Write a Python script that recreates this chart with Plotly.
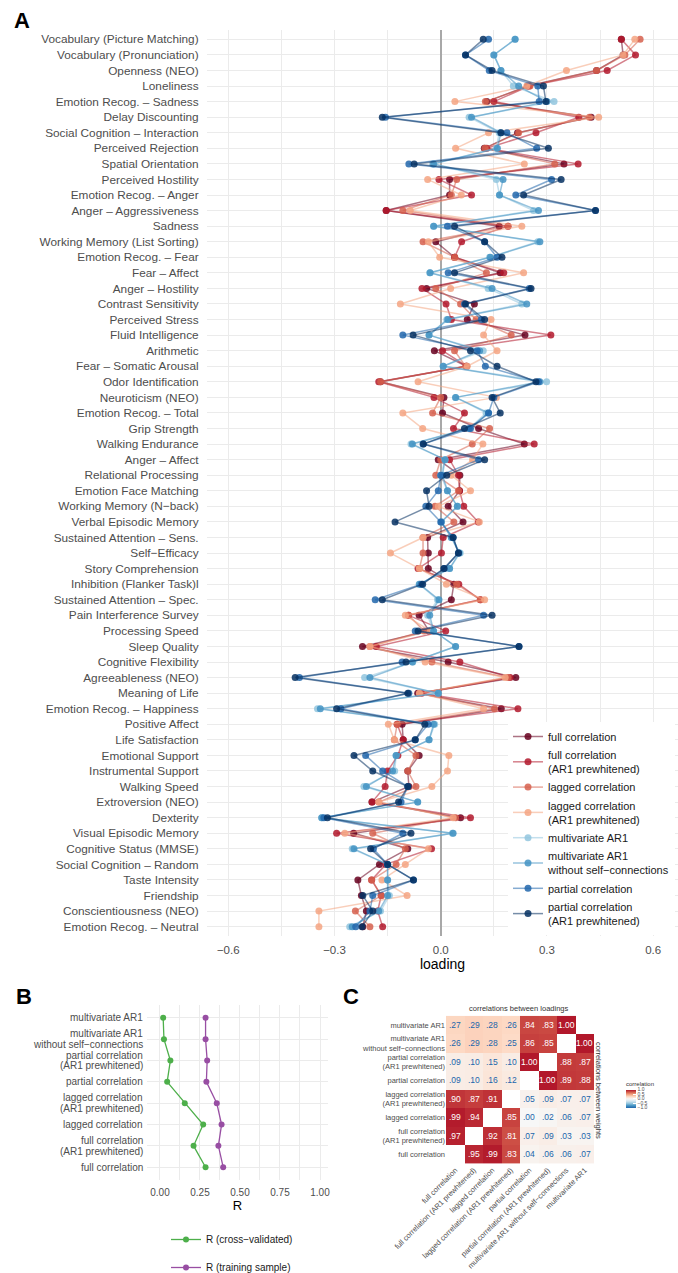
import plotly.graph_objects as go

# ---------------- Panel A data ----------------
measures = [
    "Vocabulary (Picture Matching)", "Vocabulary (Pronunciation)", "Openness (NEO)", "Loneliness",
    "Emotion Recog. – Sadness", "Delay Discounting", "Social Cognition – Interaction", "Perceived Rejection",
    "Spatial Orientation", "Perceived Hostility", "Emotion Recog. – Anger", "Anger – Aggressiveness",
    "Sadness", "Working Memory (List Sorting)", "Emotion Recog. – Fear", "Fear – Affect",
    "Anger – Hostility", "Contrast Sensitivity", "Perceived Stress", "Fluid Intelligence",
    "Arithmetic", "Fear – Somatic Arousal", "Odor Identification", "Neuroticism (NEO)",
    "Emotion Recog. – Total", "Grip Strength", "Walking Endurance", "Anger – Affect",
    "Relational Processing", "Emotion Face Matching", "Working Memory (N−back)", "Verbal Episodic Memory",
    "Sustained Attention – Sens.", "Self−Efficacy", "Story Comprehension", "Inhibition (Flanker Task)l",
    "Sustained Attention – Spec.", "Pain Interference Survey", "Processing Speed", "Sleep Quality",
    "Cognitive Flexibility", "Agreeableness (NEO)", "Meaning of Life", "Emotion Recog. – Happiness",
    "Positive Affect", "Life Satisfaction", "Emotional Support", "Instrumental Support",
    "Walking Speed", "Extroversion (NEO)", "Dexterity", "Visual Episodic Memory",
    "Cognitive Status (MMSE)", "Social Cognition – Random", "Taste Intensity", "Friendship",
    "Conscientiousness (NEO)", "Emotion Recog. – Neutral",
]

full_corr = [0.51, 0.515, 0.44, 0.245, 0.13, 0.425, 0.217, 0.123, 0.348, 0.025, 0.025, -0.154, 0.165, -0.014,
             0.039, 0.168, -0.04, 0.095, 0.075, 0.238, -0.018, 0.073, -0.17, 0.009, 0.005, 0.107, 0.236, -0.007,
             0.054, 0.053, 0.021, 0.063, -0.037, -0.035, -0.035, 0.037, 0.03, -0.061, -0.033, -0.221, 0.021,
             0.212, -0.065, 0.171, -0.109, -0.106, -0.061, -0.093, -0.09, -0.194, 0.056, -0.246, -0.093, -0.173,
             -0.234, -0.224, -0.21, -0.22]
full_corr_ar1 = [0.51, 0.55, 0.47, 0.25, 0.15, 0.39, 0.269, 0.13, 0.388, -0.005, 0.087, -0.154, 0.19, 0.059,
                 0.039, 0.178, -0.053, 0.015, 0.03, 0.311, 0.005, 0.073, -0.175, -0.019, 0.067, 0.036, 0.264, 0.025,
                 0.05, 0.053, 0.065, 0.106, 0.007, 0.002, -0.064, 0.051, 0.112, -0.091, 0.014, -0.182, 0.054,
                 0.196, -0.054, 0.218, -0.123, -0.106, -0.121, -0.15, -0.157, -0.194, 0.084, -0.294, -0.026, -0.155,
                 -0.195, -0.168, -0.178, -0.164]
lagged_corr = [0.563, 0.52, 0.44, 0.252, 0.126, 0.42, 0.22, 0.125, 0.322, 0.045, 0.03, -0.107, 0.19, -0.05,
               0.04, 0.129, -0.014, 0.056, 0.10, 0.199, 0.039, 0.07, -0.17, 0.0, -0.023, 0.138, 0.089, 0.0,
               -0.014, 0.05, -0.016, 0.037, -0.05, -0.05, -0.06, 0.045, 0.112, -0.091, -0.047, -0.2, -0.025,
               0.19, -0.06, 0.152, -0.123, -0.131, -0.07, -0.093, -0.07, -0.175, 0.042, -0.192, -0.1, -0.126,
               -0.195, -0.168, -0.241, -0.2]
lagged_corr_ar1 = [0.548, 0.515, 0.355, 0.243, 0.04, 0.446, 0.135, 0.042, 0.236, -0.037, 0.058, -0.086, 0.229,
                   -0.035, -0.003, 0.234, 0.028, -0.114, 0.142, 0.121, 0.159, 0.075, -0.064, 0.157, -0.107, -0.051,
                   0.119, 0.09, 0.03, 0.084, -0.007, 0.109, -0.05, -0.142, -0.06, 0.016, 0.124, -0.1, -0.03, -0.2,
                   -0.044, 0.182, -0.06, 0.121, -0.148, -0.131, 0.023, 0.019, -0.025, -0.175, 0.035, -0.271, -0.035,
                   -0.1, -0.166, -0.095, -0.344, -0.344]
mar1 = [0.21, 0.15, 0.17, 0.205, 0.32, 0.08, 0.165, 0.157, -0.023, 0.157, 0.166, 0.262, -0.02, 0.274,
        0.138, -0.031, 0.134, 0.229, 0.017, -0.033, 0.12, 0.007, 0.299, 0.042, 0.128, 0.08, -0.084, 0.012,
        0.0, 0.019, 0.047, 0.002, 0.03, 0.055, 0.025, -0.061, -0.009, -0.037, -0.021, 0.042, -0.079,
        -0.215, -0.007, -0.348, -0.017, -0.033, -0.126, -0.13, -0.217, -0.065, -0.336, 0.033, -0.25, -0.15,
        -0.15, -0.145, -0.17, -0.257]
mar1_noself = [0.21, 0.15, 0.17, 0.22, 0.30, 0.087, 0.17, 0.16, -0.02, 0.176, 0.166, 0.276, -0.02, 0.28,
               0.14, -0.03, 0.145, 0.243, 0.02, -0.033, 0.11, 0.007, 0.28, 0.042, 0.135, 0.08, -0.08, 0.012,
               0.005, 0.019, 0.047, 0.002, 0.03, 0.052, 0.025, -0.06, -0.005, -0.031, -0.02, 0.042, -0.08,
               -0.2, -0.007, -0.34, -0.02, -0.033, -0.126, -0.136, -0.21, -0.065, -0.336, 0.035, -0.245, -0.15,
               -0.15, -0.15, -0.175, -0.25]
partial_corr = [0.135, 0.07, 0.137, 0.274, 0.278, -0.156, 0.187, 0.271, -0.09, 0.313, 0.212, 0.437, 0.019, 0.124,
                0.159, 0.021, 0.25, 0.067, 0.115, -0.107, 0.103, 0.126, 0.276, 0.15, 0.135, 0.084, -0.05, 0.107,
                0.0, -0.007, -0.042, 0.0, 0.035, 0.05, 0.01, -0.055, -0.185, 0.121, -0.072, 0.221, -0.109,
                -0.399, -0.09, -0.282, -0.035, -0.072, -0.212, -0.164, -0.093, -0.112, -0.33, -0.107, -0.19, -0.15,
                -0.077, -0.192, -0.2, -0.24]
partial_corr_ar1 = [0.12, 0.07, 0.145, 0.29, 0.297, -0.165, 0.17, 0.304, -0.075, 0.34, 0.234, 0.437, 0.039, 0.124,
                    0.173, 0.039, 0.255, 0.07, 0.124, -0.078, 0.084, 0.159, 0.269, 0.145, 0.168, 0.067, -0.049, 0.124,
                    0.017, -0.04, -0.033, -0.129, 0.035, 0.05, 0.009, -0.051, -0.165, 0.145, -0.064, 0.221, -0.098,
                    -0.411, -0.093, -0.294, -0.045, -0.072, -0.245, -0.192, -0.093, -0.119, -0.32, -0.084, -0.198,
                    -0.15, -0.077, -0.22, -0.192, -0.222]

series_names = ["full correlation", "full correlation<br>(AR1 prewhitened)", "lagged correlation",
                "lagged correlation<br>(AR1 prewhitened)", "multivariate AR1",
                "multivariate AR1<br>without self−connections", "partial correlation",
                "partial correlation<br>(AR1 prewhitened)"]
series_values = [full_corr, full_corr_ar1, lagged_corr, lagged_corr_ar1, mar1, mar1_noself,
                 partial_corr, partial_corr_ar1]
series_colors = ["#67001F", "#B2182B", "#D6604D", "#F4A582", "#92C5DE", "#4393C3", "#2166AC", "#053061"]

# ---------------- Panel B data ----------------
methods_b = ["full correlation", "full correlation<br>(AR1 prewhitened)", "lagged correlation",
             "lagged correlation<br>(AR1 prewhitened)", "partial correlation",
             "partial correlation<br>(AR1 prewhitened)", "multivariate AR1<br>without self−connections",
             "multivariate AR1"]
r_cv = [0.285, 0.21, 0.27, 0.155, 0.045, 0.065, 0.025, 0.02]
r_train = [0.395, 0.365, 0.385, 0.355, 0.29, 0.295, 0.285, 0.285]

# ---------------- Panel C data ----------------
heat_rows = methods_b
heat_cols = ["full correlation", "full correlation (AR1 prewhitened)", "lagged correlation",
             "lagged correlation (AR1 prewhitened)", "partial correlation",
             "partial correlation (AR1 prewhitened)", "multivariate AR1 without self−connections",
             "multivariate AR1"]
heat_z = [
    [None, 0.95, 0.99, 0.83, 0.04, 0.06, 0.06, 0.07],
    [0.97, None, 0.92, 0.81, 0.07, 0.09, 0.03, 0.03],
    [0.99, 0.94, None, 0.85, 0.00, 0.02, 0.06, 0.07],
    [0.90, 0.87, 0.91, None, 0.05, 0.09, 0.07, 0.07],
    [0.09, 0.10, 0.16, 0.12, None, 1.00, 0.89, 0.88],
    [0.09, 0.10, 0.15, 0.10, 1.00, None, 0.88, 0.87],
    [0.26, 0.29, 0.28, 0.25, 0.86, 0.85, None, 1.00],
    [0.27, 0.29, 0.28, 0.26, 0.84, 0.83, 1.00, None],
]

FONT = "Liberation Sans, Arial, Helvetica, sans-serif"
GRID = "#EBEBEB"
TICKC = "#4D4D4D"
W, H = 678, 1273


def hexa(c, a):
    c = c.lstrip("#")
    return "rgba(%d,%d,%d,%.2f)" % (int(c[0:2], 16), int(c[2:4], 16), int(c[4:6], 16), a)


fig = go.Figure()

ypos = list(range(1, len(measures) + 1))
for name, vals, col in zip(series_names, series_values, series_colors):
    fig.add_trace(go.Scatter(
        x=vals, y=ypos, mode="lines+markers", name=name,
        line=dict(color=hexa(col, 0.55), width=1.5),
        marker=dict(color=hexa(col, 0.85), size=7),
        xaxis="x", yaxis="y", legend="legend", hoverinfo="skip",
    ))

ypos_b = list(range(len(methods_b)))
fig.add_trace(go.Scatter(x=r_cv, y=ypos_b, mode="lines+markers", name="R (cross−validated)",
                         line=dict(color="#4DAF4A", width=1.3), marker=dict(color="#4DAF4A", size=6),
                         xaxis="x2", yaxis="y2", legend="legend2", legendgroup="cv"))
fig.add_trace(go.Scatter(x=r_train, y=ypos_b, mode="lines+markers", name="R (training sample)",
                         line=dict(color="#984EA3", width=1.3), marker=dict(color="#984EA3", size=6),
                         xaxis="x2", yaxis="y2", legend="legend2", legendgroup="tr"))

rdbu = [[0.0, "#2166ac"], [0.125, "#4393c3"], [0.25, "#92c5de"], [0.375, "#d1e5f0"], [0.5, "#f7f7f7"],
        [0.625, "#fddbc7"], [0.75, "#f4a582"], [0.875, "#d6604d"], [1.0, "#b2182b"]]
fig.add_trace(go.Heatmap(
    z=heat_z, x=list(range(8)), y=list(range(8)), zmin=-1, zmax=1, colorscale=rdbu,
    xaxis="x3", yaxis="y3", hoverinfo="skip", showscale=True,
    colorbar=dict(x=616 / W, xanchor="left", y=1 - 1093 / H, yanchor="middle", len=49, lenmode="pixels",
                  thickness=10, outlinewidth=0,
                  title=dict(text="correlation", side="top", font=dict(size=6, family=FONT, color="#333")),
                  tickvals=[-1, -0.5, 0, 0.5, 1], ticktext=["−1.0", "−0.5", "0.0", "0.5", "1.0"],
                  tickfont=dict(size=5, family=FONT, color="#4D4D4D"), ticks="inside", tickcolor="white",
                  ticklen=3),
))

annotations = []
for i, row in enumerate(heat_z):
    for j, v in enumerate(row):
        if v is None:
            continue
        txt = "%.2f" % v
        if txt.startswith("0"):
            txt = txt[1:]
        annotations.append(dict(x=j, y=i, xref="x3", yref="y3", text=txt, showarrow=False,
                                font=dict(size=8.5, family=FONT, color="white" if v >= 0.5 else "#2166AC")))

# Panel B category labels (tight line spacing like the reference)
for i, lab in enumerate(methods_b):
    lines = lab.split("<br>")
    n = len(lines)
    for k, ln in enumerate(lines):
        shift = ((n - 1) / 2.0 - k) * 10.8
        annotations.append(dict(x=145 / W, y=i, xref="paper", yref="y2", text=ln, showarrow=False,
                                xanchor="right", yanchor="middle", yshift=shift,
                                font=dict(size=10, family=FONT, color=TICKC)))

annotations += [
    dict(x=12 / W, y=1 - 6 / H, xref="paper", yref="paper", text="<b>A</b>", showarrow=False,
         xanchor="left", yanchor="top", font=dict(size=22, family=FONT, color="black")),
    dict(x=14 / W, y=1 - 982 / H, xref="paper", yref="paper", text="<b>B</b>", showarrow=False,
         xanchor="left", yanchor="top", font=dict(size=22, family=FONT, color="black")),
    dict(x=341 / W, y=1 - 982 / H, xref="paper", yref="paper", text="<b>C</b>", showarrow=False,
         xanchor="left", yanchor="top", font=dict(size=22, family=FONT, color="black")),
    dict(x=518 / W, y=1 - 1008 / H, xref="paper", yref="paper", text="correlations between loadings",
         showarrow=False, xanchor="center", yanchor="middle", font=dict(size=7.5, family=FONT, color="#333")),
    dict(x=599 / W, y=1 - 1090 / H, xref="paper", yref="paper", text="correlations between weights",
         showarrow=False, textangle=90, xanchor="center", yanchor="middle",
         font=dict(size=7.5, family=FONT, color="#333")),
]

fig.update_layout(
    width=W, height=H, margin=dict(l=0, r=0, t=0, b=0, autoexpand=False),
    paper_bgcolor="white", plot_bgcolor="white",
    font=dict(family=FONT, color="#1a1a1a"),
    annotations=annotations,
    xaxis=dict(domain=[207 / W, 1.0], anchor="y", range=[-0.66, 0.67], tick0=0, dtick=0.3, tickformat=".1f",
               automargin=False,
               showgrid=True, gridcolor=GRID, gridwidth=1,
               minor=dict(dtick=0.15, tick0=0, showgrid=True, gridcolor=GRID, gridwidth=0.6),
               zeroline=True, zerolinecolor="#A8A8A8", zerolinewidth=1.6, showline=False,
               ticks="outside", ticklen=3, tickcolor="rgba(0,0,0,0)",
               tickfont=dict(size=11.5, color=TICKC, family=FONT),
               title=dict(text="loading", font=dict(size=14, color="black", family=FONT), standoff=4)),
    yaxis=dict(domain=[1 - 936 / H, 1 - 30 / H], anchor="x", range=[58.6, 0.4], tickvals=ypos,
               automargin=False,
               ticktext=measures, showgrid=True, gridcolor=GRID, gridwidth=1, zeroline=False,
               ticks="outside", ticklen=5, tickcolor="rgba(0,0,0,0)",
               tickfont=dict(size=11.8, color=TICKC, family=FONT)),
    xaxis2=dict(domain=[147 / W, 328 / W], anchor="y2", range=[-0.081, 1.05], tick0=0, dtick=0.25,
                automargin=False,
                tickformat=".2f", showgrid=True, gridcolor=GRID, gridwidth=1,
                minor=dict(dtick=0.125, tick0=0, showgrid=True, gridcolor=GRID, gridwidth=0.6),
                zeroline=False, ticks="outside", ticklen=3, tickcolor="rgba(0,0,0,0)",
                tickfont=dict(size=10, color=TICKC, family=FONT),
                title=dict(text="R", font=dict(size=13, color="black", family=FONT), standoff=2)),
    yaxis2=dict(domain=[1 - 1180 / H, 1 - 1005 / H], anchor="x2", range=[-0.6, 7.6], tickvals=ypos_b,
                automargin=False, showticklabels=False,
                showgrid=True, gridcolor=GRID, gridwidth=1, zeroline=False, ticks=""),
    xaxis3=dict(domain=[446 / W, 594 / W], anchor="y3", range=[-0.5, 7.5], tickvals=list(range(8)),
                automargin=False,
                ticktext=heat_cols, tickangle=-45, showgrid=False, zeroline=False, ticks="",
                tickfont=dict(size=7.5, color=TICKC, family=FONT)),
    yaxis3=dict(domain=[1 - 1163.5 / H, 1 - 1015.8 / H], anchor="x3", range=[-0.5, 7.5],
                automargin=False,
                tickvals=list(range(8)), ticktext=heat_rows, showgrid=False, zeroline=False, ticks="",
                tickfont=dict(size=7.5, color=TICKC, family=FONT)),
    legend=dict(x=508 / W, y=1 - 722 / H, xanchor="left", yanchor="top", bgcolor="white",
                font=dict(size=11, family=FONT, color="#1a1a1a"), tracegroupgap=0),
    legend2=dict(x=166 / W, y=1 - 1225 / H, xanchor="left", yanchor="top", bgcolor="rgba(0,0,0,0)",
                 font=dict(size=10, family=FONT, color="#1a1a1a"), tracegroupgap=9),
)

fig.write_html("out.html")
